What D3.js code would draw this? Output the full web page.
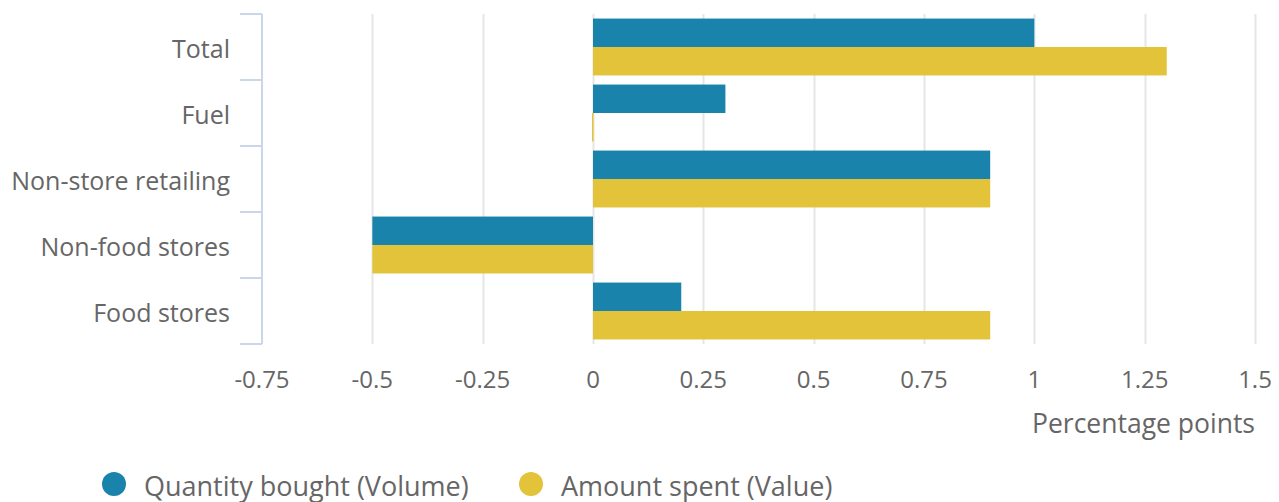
<!DOCTYPE html>
<html>
<head>
<meta charset="utf-8">
<script src="https://cdn.jsdelivr.net/npm/d3@7"></script>
<style>
  body { margin: 0; background: #fff; }
  svg { display: block; font-family: "Open Sans", sans-serif; }
</style>
</head>
<body>
<div id="chart"></div>
<script>
const categories = ["Total", "Fuel", "Non-store retailing", "Non-food stores", "Food stores"];
const volume = [1.0, 0.3, 0.9, -0.5, 0.2];
const value = [1.3, 0.0, 0.9, -0.5, 0.9];
const seriesNames = ["Quantity bought (Volume)", "Amount spent (Value)"];
const colors = ["#1a83ab", "#e3c33a"];
const xTicks = [-0.75, -0.5, -0.25, 0, 0.25, 0.5, 0.75, 1, 1.25, 1.5];

function barChart({ margin, height, width, selector }) {
    const x = d3.scaleLinear()
        .domain([-0.75, 1.5])
        .range([margin.left, width - margin.right]);

    const y = d3.scaleBand()
        .domain(categories)
        .range([margin.top, margin.top + 330]);

    const inner = d3.scaleBand()
        .domain([0, 1])
        .range([0, y.bandwidth()])
        .paddingOuter(0.16)
        .paddingInner(0);

    const svg = d3.select(selector)
        .append("svg")
        .attr("width", width)
        .attr("height", height);

    // grid
    svg.append("g")
        .selectAll("line")
        .data(xTicks.slice(1))
        .join("line")
        .attr("x1", d => Math.round(x(d)) + 0.5)
        .attr("x2", d => Math.round(x(d)) + 0.5)
        .attr("y1", margin.top)
        .attr("y2", margin.top + 330)
        .attr("stroke", "#e6e6e6")
        .attr("stroke-width", 2);

    const rows = categories.map((c, i) => [
        { cat: c, s: 0, v: volume[i] },
        { cat: c, s: 1, v: value[i] }
    ]).flat();

    svg.append("g")
        .selectAll("rect")
        .data(rows)
        .join("rect")
        .attr("x", d => Math.min(x(0), x(d.v)) - (d.v === 0 ? 1 : 0))
        .attr("y", d => y(d.cat) + inner(d.s))
        .attr("width", d => Math.max(1.5, Math.abs(x(d.v) - x(0))))
        .attr("height", inner.bandwidth())
        .attr("fill", d => colors[d.s]);

    // y axis
    const yAxis = svg.append("g")
        .attr("transform", `translate(${margin.left},0)`);
    yAxis.append("line")
        .attr("x1", 0).attr("x2", 0)
        .attr("y1", margin.top).attr("y2", margin.top + 330)
        .attr("stroke", "#ccd6eb").attr("stroke-width", 2);
    yAxis.selectAll("line.tick")
        .data(d3.range(categories.length + 1))
        .join("line")
        .attr("class", "tick")
        .attr("x1", -22).attr("x2", 0)
        .attr("y1", i => margin.top + i * y.step())
        .attr("y2", i => margin.top + i * y.step())
        .attr("stroke", "#ccd6eb").attr("stroke-width", 2);
    yAxis.selectAll("text")
        .data(categories)
        .join("text")
        .attr("x", -32)
        .attr("y", d => y(d) + y.bandwidth() / 2)
        .attr("dy", "0.42em")
        .attr("text-anchor", "end")
        .attr("fill", "#666")
        .attr("font-size", 25)
        .text(d => d);

    // x labels
    svg.append("g")
        .selectAll("text")
        .data(xTicks)
        .join("text")
        .attr("x", d => x(d))
        .attr("y", 388)
        .attr("text-anchor", "middle")
        .attr("fill", "#666")
        .attr("font-size", 24)
        .text(d => String(d));

    svg.append("text")
        .attr("x", width - margin.right)
        .attr("y", 433)
        .attr("text-anchor", "end")
        .attr("fill", "#666")
        .attr("font-size", 26.5)
        .text("Percentage points");

    // legend
    const legendX = [114, 531];
    const lg = svg.append("g")
        .selectAll("g")
        .data(seriesNames)
        .join("g")
        .attr("transform", (d, i) => `translate(${legendX[i]},484)`);
    lg.append("circle")
        .attr("r", 12)
        .attr("fill", (d, i) => colors[i]);
    lg.append("text")
        .attr("x", 30)
        .attr("y", 12)
        .attr("fill", "#666")
        .attr("font-size", 27)
        .text(d => d);
}

barChart({
    margin: { top: 14, right: 24, bottom: 0, left: 262 },
    width: 1279,
    height: 502,
    selector: "#chart"
});
</script>
</body>
</html>
